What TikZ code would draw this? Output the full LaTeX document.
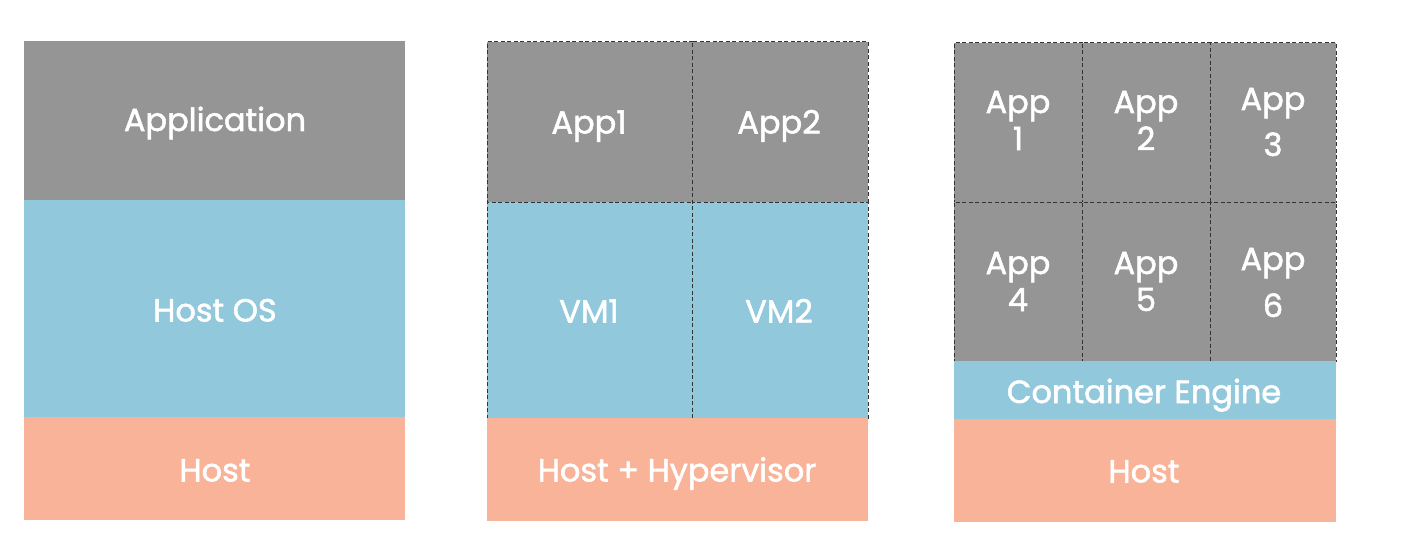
\documentclass[tikz,border=0pt]{standalone}
\usepackage{fontspec}
\setmainfont{Poppins}
\newfontfamily\lblfont{Poppins}[FakeBold=1.6]
\definecolor{appgray}{HTML}{959595}
\definecolor{osblue}{HTML}{92C8DC}
\definecolor{hostsalmon}{HTML}{F9B398}
\definecolor{dashgray}{HTML}{333333}
\begin{document}
\begin{tikzpicture}[x=1pt,y=-1pt,
  blk/.style={rectangle,inner sep=0pt,outer sep=0pt},
  appblk/.style={blk,fill=appgray},
  osblk/.style={blk,fill=osblue},
  hostblk/.style={blk,fill=hostsalmon},
  dsh/.style={draw=dashgray,line width=1pt,dash pattern=on 4pt off 2.5pt},
  sz/.style 2 args={minimum width=#1pt,minimum height=#2pt},
  lbl/.style={inner sep=0pt,anchor=base,text=white,
    font=\lblfont\fontsize{32}{38}\selectfont}]
\useasboundingbox (0,0) rectangle (1420,559);
% column 1
\node[appblk,sz={381}{159}] (app) at (214.5,120.5) {};
\node[osblk,sz={381}{217}] (os) at (214.5,308.5) {};
\node[hostblk,sz={381}{103}] (host1) at (214.5,468.5) {};
\node[lbl] (tapp) at (215,131) {Application};
\node[lbl] (tos) at (215,321.5) {Host OS};
\node[lbl] (th1) at (215,481.5) {Host};
% column 2
\node[appblk,dsh,sz={205}{160}] (app1) at (589.5,122) {};
\node[appblk,dsh,sz={176}{160}] (app2) at (780,122) {};
\node[osblk,dsh,sz={205}{216}] (vm1) at (589.5,310) {};
\node[osblk,dsh,sz={176}{216}] (vm2) at (780,310) {};
\node[hostblk,sz={381}{103}] (host2) at (677.5,469.5) {};
\node[lbl] (tapp1) at (589,133.5) {App1};
\node[lbl] (tapp2) at (779,133.5) {App2};
\node[lbl] (tvm1) at (589,322.5) {VM1};
\node[lbl] (tvm2) at (779,322.5) {VM2};
\node[lbl] (th2) at (677,481.5) {Host + Hypervisor};
% column 3
\node[appblk,dsh,sz={128}{159}] (c1) at (1018,122.5) {};
\node[appblk,dsh,sz={128}{159}] (c2) at (1146,122.5) {};
\node[appblk,dsh,sz={126}{159}] (c3) at (1273,122.5) {};
\node[appblk,dsh,sz={128}{159}] (c4) at (1018,281.5) {};
\node[appblk,dsh,sz={128}{159}] (c5) at (1146,281.5) {};
\node[appblk,dsh,sz={126}{159}] (c6) at (1273,281.5) {};
\node[osblk,sz={382}{58}] (ce) at (1145,390) {};
\node[hostblk,sz={382}{103}] (host3) at (1145,470.5) {};
\node[lbl] (tc1a) at (1018,113) {App};
\node[lbl] (tc1b) at (1018,150) {1};
\node[lbl] (tc2a) at (1146,113) {App};
\node[lbl] (tc2b) at (1146,150) {2};
\node[lbl] (tc3a) at (1273,110) {App};
\node[lbl] (tc3b) at (1273,156) {3};
\node[lbl] (tc4a) at (1018,274) {App};
\node[lbl] (tc4b) at (1018,311) {4};
\node[lbl] (tc5a) at (1146,274) {App};
\node[lbl] (tc5b) at (1146,311) {5};
\node[lbl] (tc6a) at (1273,270) {App};
\node[lbl] (tc6b) at (1273,317) {6};
\node[lbl] (tce) at (1144,403) {Container Engine};
\node[lbl] (th3) at (1144,482.5) {Host};
\end{tikzpicture}
\end{document}
